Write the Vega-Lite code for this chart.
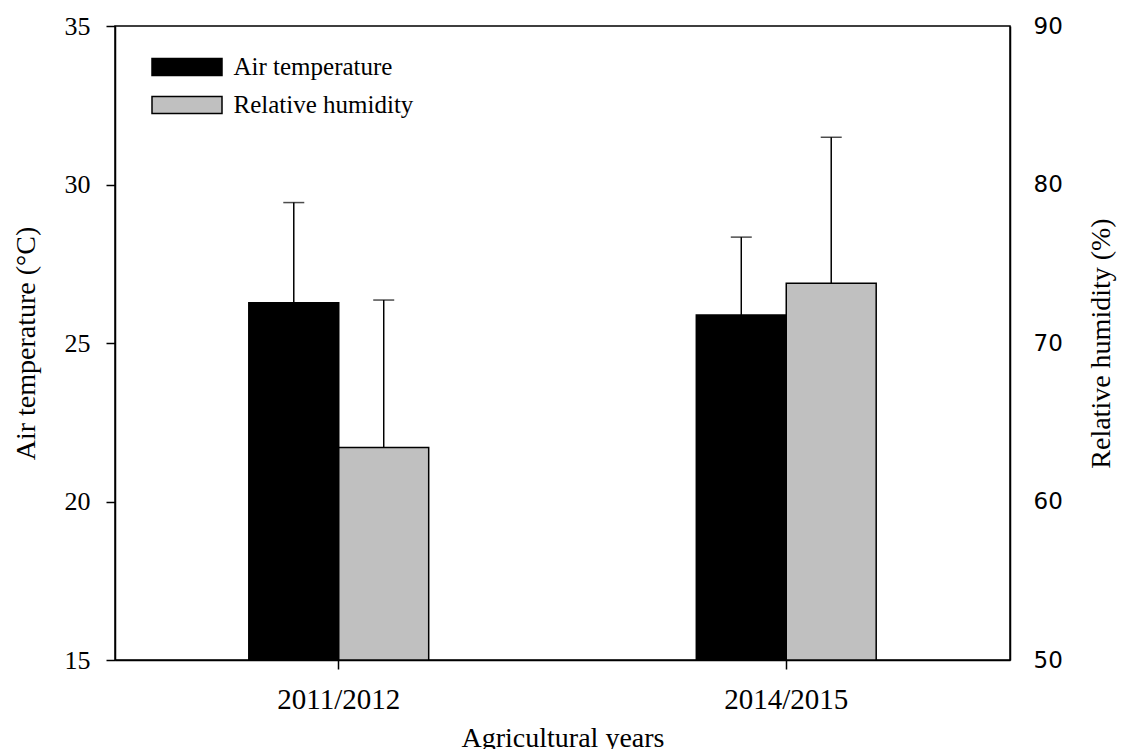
{
  "$schema": "https://vega.github.io/schema/vega-lite/v6.json",
  "autosize": {"type": "none"},
  "padding": {"left": 115, "top": 26, "right": 116, "bottom": 89},
  "width": 895,
  "height": 634,
  "background": "white",
  "config": {
    "view": {"stroke": "black", "strokeWidth": 1.5},
    "font": "Liberation Serif",
    "axis": {"domainColor": "black", "domainWidth": 1.5, "tickColor": "black", "tickWidth": 1.5, "labelColor": "black", "titleColor": "black", "grid": false, "titleFontWeight": "normal", "titleFont": "Liberation Serif"}
  },
  "data": {
    "values": [
      {"year": "2011/2012", "series": "Air temperature", "value": 26.27, "upper": 29.43},
      {"year": "2014/2015", "series": "Air temperature", "value": 25.88, "upper": 28.34},
      {"year": "2011/2012", "series": "Relative humidity", "value": 63.4, "upper": 72.71},
      {"year": "2014/2015", "series": "Relative humidity", "value": 73.77, "upper": 82.98}
    ]
  },
  "encoding": {
    "x": {
      "field": "year", "type": "nominal",
      "scale": {"domain": ["2011/2012", "2014/2015"], "paddingInner": 0.598, "paddingOuter": 0.299},
      "axis": {"title": "Agricultural years", "labelAngle": 0, "labelFontSize": 29, "labelFont": "Liberation Serif", "tickSize": 9, "labelPadding": 16, "titleFontSize": 28, "titlePadding": 10}
    },
    "xOffset": {
      "field": "series", "type": "nominal",
      "scale": {"domain": ["Air temperature", "Relative humidity"], "paddingInner": 0, "paddingOuter": 0}
    }
  },
  "layer": [
    {
      "transform": [{"filter": "datum.series == 'Air temperature'"}],
      "encoding": {
        "y": {
          "field": "value", "type": "quantitative",
          "scale": {"domain": [15, 35], "nice": false, "zero": false},
          "axis": {"orient": "left", "title": "Air temperature (°C)", "values": [15, 20, 25, 30, 35], "tickSize": 9, "labelPadding": 16, "labelFontSize": 26, "labelFont": "Liberation Serif", "titleFontSize": 28, "titlePadding": 24}
        }
      },
      "layer": [
        {
          "mark": {"type": "bar", "stroke": "black", "strokeWidth": 1.5},
          "encoding": {
            "y2": {"datum": 15},
            "color": {
              "field": "series", "type": "nominal",
              "scale": {"domain": ["Air temperature", "Relative humidity"], "range": ["#000000", "#c0c0c0"]},
              "legend": {
                "title": null, "orient": "none", "legendX": 53.5, "legendY": 22.5, "padding": 0,
                "symbolType": "M-2,-0.486H2V0.486H-2Z", "symbolSize": 1225,
                "symbolStrokeColor": "black", "symbolStrokeWidth": 1.5, "symbolOpacity": 1,
                "labelFont": "Liberation Serif", "labelFontSize": 25, "labelColor": "black", "labelOffset": 28,
                "rowPadding": 6, "labelLimit": 400
              }
            }
          }
        },
        {
          "mark": {"type": "rule", "color": "black", "strokeWidth": 1.5},
          "encoding": {"y2": {"field": "upper"}}
        },
        {
          "mark": {"type": "tick", "color": "black", "thickness": 1.5, "size": 21, "orient": "horizontal"},
          "encoding": {"y": {"field": "upper", "type": "quantitative"}}
        }
      ]
    },
    {
      "transform": [{"filter": "datum.series == 'Relative humidity'"}],
      "encoding": {
        "y": {
          "field": "value", "type": "quantitative",
          "scale": {"domain": [50, 90], "nice": false, "zero": false},
          "axis": {"orient": "right", "title": "Relative humidity (%)", "values": [50, 60, 70, 80, 90], "ticks": false, "labelPadding": 23, "labelFontSize": 23, "labelFont": "DejaVu Sans", "titleFontSize": 28, "titleAngle": 270, "titleBaseline": "top", "titlePadding": 25}
        }
      },
      "layer": [
        {
          "mark": {"type": "bar", "stroke": "black", "strokeWidth": 1.5},
          "encoding": {
            "y2": {"datum": 50},
            "color": {"field": "series", "type": "nominal"}
          }
        },
        {
          "mark": {"type": "rule", "color": "black", "strokeWidth": 1.5},
          "encoding": {"y2": {"field": "upper"}}
        },
        {
          "mark": {"type": "tick", "color": "black", "thickness": 1.5, "size": 21, "orient": "horizontal"},
          "encoding": {"y": {"field": "upper", "type": "quantitative"}}
        }
      ]
    }
  ],
  "resolve": {"scale": {"y": "independent"}}
}
